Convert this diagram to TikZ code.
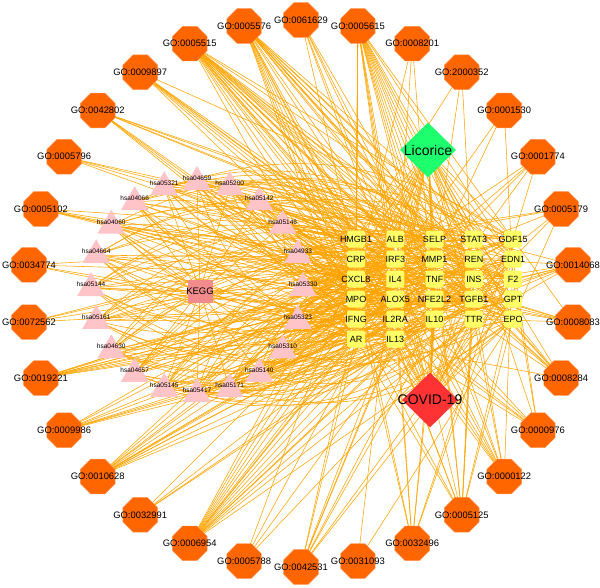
\documentclass[tikz,border=0pt]{standalone}
\usepackage{fontspec}
\setmainfont{Liberation Sans}
\usetikzlibrary{shapes.geometric,backgrounds}
\definecolor{goC}{RGB}{255,102,0}
\definecolor{goE}{RGB}{255,150,80}
\definecolor{edgeC}{RGB}{255,165,0}
\definecolor{geneC}{RGB}{255,255,102}
\definecolor{triC}{RGB}{255,196,200}
\definecolor{keggC}{RGB}{242,140,140}
\definecolor{licC}{RGB}{30,255,110}
\definecolor{covC}{RGB}{255,51,51}
\begin{document}
\begin{tikzpicture}[x=1pt,y=-1pt,
 edge/.style={draw=edgeC,line width=0.55pt},
 gonode/.style={regular polygon,regular polygon sides=8,minimum size=37.5pt,inner sep=0pt,fill=goC,draw=goE,line width=0.4pt},
 golabel/.style={font=\fontsize{9.4}{10}\selectfont,inner sep=0pt},
 genebox/.style={rectangle,rounded corners=2.5pt,minimum width=18pt,minimum height=17pt,inner sep=0pt,fill=geneC},
 genelabel/.style={font=\fontsize{9}{10}\selectfont,inner sep=0pt},
 tribox/.style={regular polygon,regular polygon sides=3,minimum size=32pt,inner sep=0pt,fill=triC},
 trilabel/.style={font=\fontsize{6.5}{7}\selectfont,inner sep=0pt},
 hubtext/.style={font=\fontsize{14}{16}\selectfont,inner sep=0pt}]
\useasboundingbox (0,0) rectangle (600,587);
% GO terms
\foreach \lab [count=\i from 0] in {0061629,0005615,0008201,2000352,0001530,0001774,0005179,0014068,0008083,0008284,0000976,0000122,0005125,0032496,0031093,0042531,0005788,0006954,0032991,0010628,0009986,0019221,0072562,0034774,0005102,0005796,0042802,0009897,0005515,0005576}{
  \node[gonode] (go\i) at ({301+273.5*cos(90-12*\i)},{293.5-273.5*sin(90-12*\i)}) {};
  \node[golabel] at (go\i) {GO:\lab};
}
% genes
\foreach \nm/\c/\r [count=\j] in {HMGB1/0/0,CRP/0/1,CXCL8/0/2,MPO/0/3,IFNG/0/4,AR/0/5,ALB/1/0,IRF3/1/1,IL4/1/2,ALOX5/1/3,IL2RA/1/4,IL13/1/5,SELP/2/0,MMP1/2/1,TNF/2/2,NFE2L2/2/3,IL10/2/4,STAT3/3/0,REN/3/1,INS/3/2,TGFB1/3/3,TTR/3/4,GDF15/4/0,EDN1/4/1,F2/4/2,GPT/4/3,EPO/4/4}{
  \node[genebox] (g\j) at ({356+39.25*\c},{239+20*\r}) {};
  \node[genelabel] at (g\j) {\nm};
}
% pathways
\foreach \lab [count=\k from 0] in {04659,05200,05142,05146,04933,05330,05323,05310,05140,05171,05417,05145,04657,04630,05161,05144,04664,04060,04066,05321}{
  \node[tribox] (t\k) at ({197+106*cos(90-18*\k)},{284-106*sin(90-18*\k)+4}) {};
  \node[trilabel] at ({197+106*cos(90-18*\k)},{284-106*sin(90-18*\k)}) {hsa\lab};
}
\node[rectangle,fill=keggC,minimum width=25pt,minimum height=23pt,inner sep=0pt] (kegg) at (200,291) {};
\node[font=\fontsize{9.5}{10}\selectfont,inner sep=0pt] at (kegg) {KEGG};
\node[diamond,fill=licC,minimum width=56pt,minimum height=55pt,inner sep=0pt] (lic) at (428,150) {};
\node[hubtext] at (lic) {Licorice};
\node[diamond,fill=covC,minimum width=56pt,minimum height=55pt,inner sep=0pt] (cov) at (430,400) {};
\node[hubtext] at (cov) {COVID-19};
\begin{pgfonlayer}{background}
\fill[white] (0,0) rectangle (600,587);
\foreach \i/\n in {0/6,1/22,2/3,3/3,4/3,5/5,6/6,7/9,8/7,9/9,10/8,11/10,12/12,13/8,14/2,15/9,16/4,17/16,18/4,19/12,20/8,21/10,22/4,23/4,24/6,25/4,26/8,27/8,28/22,29/20}{
  \foreach \m in {1,...,\n}{
    \pgfmathtruncatemacro\j{mod(\i*11+\m*7,27)+1}
    \draw[edge] (go\i.center) -- (g\j.center);
  }
}
\foreach \j in {1,...,27}{
  \draw[edge] (lic.center) -- (g\j.center);
  \draw[edge] (cov.center) -- (g\j.center);
}
\foreach \k in {0,...,19}{
  \draw[edge] (kegg.center) -- (t\k.center);
  \foreach \m in {0,...,11}{
    \pgfmathtruncatemacro\j{mod(\k*5+\m*4,27)+1}
    \pgfmathtruncatemacro\s{mod(\m,3)}
    \ifcase\s
      \draw[edge] (t\k.center) -- (g\j.center);
    \or
      \draw[edge] (t\k.center) to[bend left=30] (g\j.center);
    \else
      \draw[edge] (t\k.center) to[bend right=30] (g\j.center);
    \fi
  }
}
\end{pgfonlayer}
\end{tikzpicture}
\end{document}
